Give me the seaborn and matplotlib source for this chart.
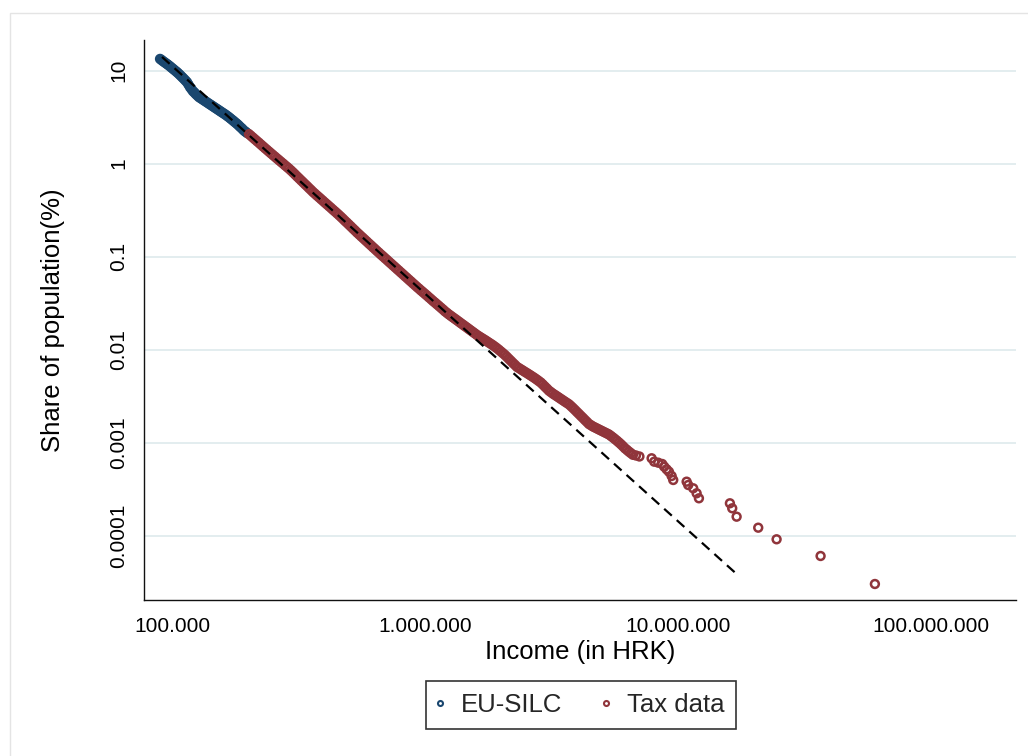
import matplotlib
matplotlib.use("Agg")
import matplotlib.pyplot as plt
import seaborn as sns
import pandas as pd
from matplotlib.lines import Line2D
from matplotlib.patches import Rectangle
from matplotlib.ticker import FixedLocator, FixedFormatter, NullLocator

# ---------------- data ----------------
# EU-SILC observations (two passes of readings along the dense band)
eu_income_a = [89700, 92100, 94700, 97300, 100000, 102800, 105600, 108500, 111500, 114600,
               117800, 121100, 124400, 127900, 131400, 135000, 138800, 142700, 146600, 150700,
               154800, 159100, 163500, 168000, 172700, 177400, 182300, 187400, 192600, 197900]
eu_share_a = [13.33, 12.62, 11.95, 11.32, 10.64, 10.0, 9.40, 8.747, 8.122, 7.505,
              6.630, 5.989, 5.562, 5.176, 4.937, 4.699, 4.472, 4.256, 4.050, 3.855,
              3.669, 3.491, 3.323, 3.146, 2.958, 2.782, 2.614, 2.432, 2.259, 2.133]
eu_income_b = [90930, 93370, 96000, 98640, 101380, 104210, 107050, 109990, 113030, 116180,
               119420, 122770, 126110, 129660, 133210, 136860, 140710, 144660, 148620, 152770,
               156930, 161290, 165750, 170310, 175070, 179840, 184810, 189980, 195250]
eu_share_b = [12.98, 12.29, 11.64, 10.98, 10.32, 9.70, 9.07, 8.43, 7.81, 7.07,
              6.31, 5.78, 5.37, 5.06, 4.82, 4.59, 4.36, 4.15, 3.95, 3.76,
              3.58, 3.41, 3.23, 3.05, 2.87, 2.70, 2.52, 2.35, 2.20]

# Tax data: dense band (two passes of readings) and the separate top observations
tax_income_a = [201500, 209000, 216800, 224800, 233100, 241800, 250700, 260000, 269600, 279600,
                290000, 300700, 311900, 323500, 335500, 347900, 360800, 374200, 388000, 402400,
                417400, 432900, 448900, 465600, 482800, 500700, 519300, 538500, 558500, 579200,
                600700, 623000, 646100, 670000, 694900, 720600, 747300, 775000, 803800, 833600,
                864600, 896600, 929900, 964300, 1000000, 1037000, 1075000, 1115000, 1157000, 1199000,
                1244000, 1290000, 1338000, 1388000, 1439000, 1492000, 1548000, 1605000, 1665000, 1727000,
                1791000, 1857000, 1926000, 1997000, 2071000, 2148000, 2228000, 2310000, 2396000, 2485000,
                2577000, 2673000, 2771000, 2874000, 2981000, 3091000, 3206000, 3325000, 3448000, 3576000,
                3709000, 3846000, 3989000, 4137000, 4290000, 4449000, 4613000, 4785000, 4963000, 5147000,
                5337000, 5535000, 5741000, 5953000, 6174000, 6403000, 6641000]
tax_share_a = [2.071, 1.899, 1.741, 1.597, 1.464, 1.343, 1.234, 1.134, 1.043, 0.9587,
               0.8814, 0.8042, 0.7284, 0.6613, 0.6004, 0.5453, 0.4950, 0.4527, 0.4152, 0.3798,
               0.3482, 0.3186, 0.2921, 0.2666, 0.2420, 0.2203, 0.2000, 0.1816, 0.1657, 0.1512,
               0.1379, 0.1259, 0.1149, 0.1050, 0.09612, 0.08791, 0.08042, 0.07356, 0.06730, 0.06153,
               0.05628, 0.05149, 0.04710, 0.04320, 0.03971, 0.03641, 0.03339, 0.03070, 0.02814, 0.02581,
               0.02384, 0.02219, 0.02066, 0.01918, 0.01785, 0.01661, 0.01543, 0.01435, 0.01346, 0.01266,
               0.01186, 0.01112, 0.01033, 0.009517, 0.008748, 0.007924, 0.007177, 0.006516, 0.006124, 0.005756,
               0.005411, 0.005075, 0.004745, 0.004406, 0.003992, 0.003615, 0.003356, 0.003146, 0.002943, 0.002754,
               0.002581, 0.002355, 0.002133, 0.001932, 0.001750, 0.001585, 0.001490, 0.001418, 0.001349, 0.001284,
               0.001222, 0.001134, 0.001046, 0.0009588, 0.0008685, 0.0007987, 0.0007393]
tax_income_b = [205200, 212800, 220800, 228900, 237400, 246200, 255300, 264800, 274600, 284700,
                295300, 306200, 317600, 329400, 341700, 354300, 367400, 381100, 395100, 409800,
                425100, 440800, 457100, 474100, 491700, 509900, 528800, 548400, 568800, 589800,
                611700, 634400, 658000, 682300, 707700, 733800, 761000, 789200, 818600, 848900,
                880500, 913100, 947000, 982000, 1018400, 1056000, 1094700, 1135500, 1178200, 1221000,
                1266800, 1313700, 1362600, 1413500, 1465400, 1519400, 1576400, 1634500, 1695600, 1758700,
                1823900, 1891100, 1961400, 2033700, 2109000, 2187400, 2268900, 2352400, 2440000, 2530600,
                2624300, 2722100, 2821900, 2926800, 3035700, 3147800, 3264900, 3386000, 3511300, 3641700,
                3777100, 3916600, 4062200, 4213000, 4368800, 4530700, 4697700, 4872900, 5054100, 5241500,
                5435000, 5636600, 5846400, 6062300, 6287400, 6520600]
tax_share_b = [1.985, 1.820, 1.669, 1.530, 1.403, 1.288, 1.184, 1.088, 1.001, 0.9200,
               0.8428, 0.7663, 0.6948, 0.6308, 0.5728, 0.5201, 0.4738, 0.4339, 0.3975, 0.3640,
               0.3334, 0.3053, 0.2793, 0.2543, 0.2311, 0.2101, 0.1908, 0.1736, 0.1584, 0.1445,
               0.1319, 0.1204, 0.1099, 0.1006, 0.09201, 0.08416, 0.07699, 0.07043, 0.06441, 0.05890,
               0.05388, 0.04929, 0.04515, 0.04145, 0.03806, 0.03490, 0.03204, 0.02942, 0.02697, 0.02482,
               0.02301, 0.02142, 0.01992, 0.01851, 0.01723, 0.01602, 0.01489, 0.01390, 0.01306, 0.01226,
               0.01149, 0.01072, 0.009924, 0.009132, 0.008336, 0.007550, 0.006846, 0.006320, 0.005940, 0.005583,
               0.005243, 0.004910, 0.004575, 0.004199, 0.003803, 0.003485, 0.003251, 0.003044, 0.002848, 0.002667,
               0.002468, 0.002244, 0.002032, 0.001841, 0.001667, 0.001537, 0.001454, 0.001383, 0.001316, 0.001253,
               0.001178, 0.001090, 0.001002, 0.0009136, 0.0008336, 0.0007690]
tax_income_top = [6823000, 7043000, 7870000, 8059000, 8358000, 8668000, 8827000, 9022000, 9213000,
                  9443000, 9581000, 10824000, 10982000, 11494000, 11856000, 12106000, 16051000,
                  16391000, 17061000, 20770000, 24550000, 36640000, 60070000]
tax_share_top = [0.0007266, 0.0007088, 0.000678, 0.0006232, 0.000608, 0.0005887, 0.0005507, 0.0005163,
                 0.0004865, 0.0004374, 0.0003961, 0.0003799, 0.00035, 0.0003225, 0.000285, 0.0002518,
                 0.0002225, 0.0001966, 0.0001597, 0.0001216, 0.00009124, 0.00006034, 0.00003017]

# Pareto fit (dashed line end points)
fit_income = [91300, 17060000]
fit_share = [14.0, 3.865e-5]

x_ticks = [1e5, 1e6, 1e7, 1e8]
x_tick_labels = ["100.000", "1.000.000", "10.000.000", "100.000.000"]
y_ticks = [10, 1, 0.1, 0.01, 0.001, 0.0001]
y_tick_labels = ["10", "1", "0.1", "0.01", "0.001", "0.0001"]

series_labels = ["EU-SILC", "Tax data"]
x_label = "Income (in HRK)"
y_label = "Share of population(%)"

# ---------------- style ----------------
sns.set_theme(style="white")
plt.rcParams["font.family"] = ["Liberation Sans", "DejaVu Sans"]
NAVY = "#1a476f"
MAROON = "#90353b"
GRID = "#e1ecee"
INK = "#111111"

fig = plt.figure(figsize=(10.28, 7.56), dpi=100)
fig.patch.set_facecolor("white")
ax = fig.add_axes([144 / 1028, 1 - 600 / 756, (1016 - 144) / 1028, 560 / 756])
ax.set_xscale("log")
ax.set_yscale("log")

eu_df = pd.DataFrame({"income": eu_income_a + eu_income_b,
                      "share": eu_share_a + eu_share_b})
tax_df = pd.DataFrame({"income": tax_income_a + tax_income_b + tax_income_top,
                       "share": tax_share_a + tax_share_b + tax_share_top})
fit_df = pd.DataFrame({"income": fit_income, "share": fit_share})

mk = dict(marker="o", s=32, linewidth=1.8, facecolors="none", legend=False)
sns.scatterplot(data=eu_df, x="income", y="share", ax=ax, color=NAVY, edgecolor=NAVY, zorder=3, **mk)
sns.scatterplot(data=tax_df, x="income", y="share", ax=ax, color=MAROON, edgecolor=MAROON, zorder=3, **mk)
sns.lineplot(data=fit_df, x="income", y="share", ax=ax, color="black", linewidth=1.6,
             linestyle=(0, (4.6, 3.0)), zorder=5, legend=False)

ax.set_xlim(77500, 2.17e8)
ax.set_ylim(2.03e-5, 21.3)

ax.xaxis.set_major_locator(FixedLocator(x_ticks))
ax.xaxis.set_major_formatter(FixedFormatter(x_tick_labels))
ax.xaxis.set_minor_locator(NullLocator())
ax.yaxis.set_major_locator(FixedLocator(y_ticks))
ax.yaxis.set_major_formatter(FixedFormatter(y_tick_labels))
ax.yaxis.set_minor_locator(NullLocator())

ax.set_axisbelow(True)
ax.yaxis.grid(True, color=GRID, linewidth=1.3)
ax.xaxis.grid(False)
for side in ("top", "right"):
    ax.spines[side].set_visible(False)
for side in ("left", "bottom"):
    ax.spines[side].set_color(INK)
    ax.spines[side].set_linewidth(1.0)

ax.tick_params(axis="both", which="major", direction="out", length=7, width=1.0,
               color=INK, labelcolor="black", labelsize=15)
ax.tick_params(axis="x", pad=5)
ax.tick_params(axis="y", pad=4.5, labelrotation=90)
for lbl in ax.get_yticklabels():
    lbl.set_verticalalignment("center")

ax.set_xlabel(x_label, fontsize=18.5, color="black")
ax.xaxis.set_label_coords(0.5, -0.0714)
ax.set_ylabel(y_label, fontsize=18.5, color="black")
ax.yaxis.set_label_coords(-0.0906, 0.5)

handles = [
    Line2D([], [], marker="o", linestyle="none", markerfacecolor="none",
           markeredgecolor=NAVY, markersize=3.6, markeredgewidth=1.5),
    Line2D([], [], marker="o", linestyle="none", markerfacecolor="none",
           markeredgecolor=MAROON, markersize=3.6, markeredgewidth=1.5),
]
leg = fig.legend(handles, series_labels, loc="center",
                 bbox_to_anchor=(581 / 1028, 1 - 705 / 756), ncol=2, frameon=True,
                 fancybox=False, edgecolor="black", fontsize=18.5, handlelength=0.2,
                 handletextpad=0.7, columnspacing=1.6, borderpad=0.48)
leg.get_frame().set_linewidth(1.2)

fig.add_artist(Rectangle((10 / 1028, -0.05), 1.1, (1 - 13 / 756) + 0.05,
                         transform=fig.transFigure, fill=False,
                         edgecolor="#e4e4e4", linewidth=1.0))

fig.savefig("out.png", dpi=100, facecolor="white")
